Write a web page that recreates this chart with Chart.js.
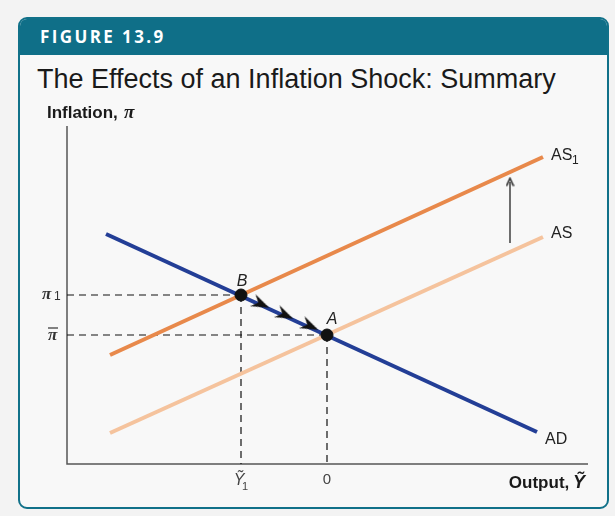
<!DOCTYPE html>
<html lang="en">
<head>
  <meta charset="UTF-8" />
  <title>Figure 13.9</title>
  <script src="https://cdn.jsdelivr.net/npm/chart.js"></script>
  <style>
    body { margin: 0; background: #f3f3f3; width: 615px; height: 516px; overflow: hidden; }
    .frame {
      position: absolute; left: 18px; top: 17px; width: 587px; height: 488px;
      border: 2px solid #117189; border-radius: 9px; background: #f8f8f8; overflow: hidden;
    }
    .frame-head {
      height: 36px; background: #0f6f88; color: #fff;
      font: bold 17px "Open Sans", "Noto Sans", sans-serif; letter-spacing: 2.4px;
      line-height: 36px; padding-left: 20px;
    }
    .title {
      position: absolute; left: 37px; top: 64px; line-height: 27px;
      font: 27px "Liberation Sans", Arial, sans-serif; color: #1a1a1a; white-space: nowrap;
    }
    .chart-wrapper { position: absolute; left: 0; top: 0; width: 615px; height: 516px; }
  </style>
</head>
<body>

<div class="frame">
  <div class="frame-head">FIGURE 13.9</div>
</div>
<div class="title">The Effects of an Inflation Shock: Summary</div>

<div class="chart-wrapper">
  <canvas id="shockChart"></canvas>
</div>

<script>
  // values (x: output, y: inflation, in picture units)
  const adLine = [{ x: 39, y: 230 }, { x: 470, y: 32 }];
  const as1Line = [{ x: 43, y: 109 }, { x: 476, y: 307 }];
  const asLine = [{ x: 43, y: 31 }, { x: 476, y: 227 }];
  const pointB = { x: 174, y: 169 };
  const pointA = { x: 260, y: 129 };
  const shiftArrow = [{ x: 443, y: 221 }, { x: 443, y: 282 }];
  const pathArrows = [{ x: 194, y: 160 }, { x: 218, y: 149 }, { x: 243, y: 138 }];
  const xTickValues = [pointB.x, pointA.x];
  const yTickValues = [pointB.y, pointA.y];
  const xMax = 521, yMax = 338;

  function stealthHead() {
    const c = document.createElement('canvas');
    c.width = 18; c.height = 13;
    const g = c.getContext('2d');
    g.fillStyle = '#111';
    g.beginPath();
    g.moveTo(18, 6.5);
    g.lineTo(0, 0);
    g.lineTo(6, 6.5);
    g.lineTo(0, 13);
    g.closePath();
    g.fill();
    return c;
  }

  function openHead() {
    const c = document.createElement('canvas');
    c.width = 11; c.height = 9;
    const g = c.getContext('2d');
    g.strokeStyle = '#222';
    g.lineWidth = 1.4;
    g.beginPath();
    g.moveTo(1.5, 1);
    g.lineTo(9.5, 4.5);
    g.lineTo(1.5, 8);
    g.stroke();
    return c;
  }

  const adAngle = Math.atan2(-(adLine[1].y - adLine[0].y), adLine[1].x - adLine[0].x) * 180 / Math.PI;

  const labelsPlugin = {
    id: 'labels',
    afterDatasetsDraw(chart) {
      const ctx = chart.ctx;
      const xs = chart.scales.x, ys = chart.scales.y;
      const px = v => xs.getPixelForValue(v);
      const py = v => ys.getPixelForValue(v);
      ctx.save();
      ctx.fillStyle = '#1a1a1a';
      ctx.textBaseline = 'alphabetic';

      // axis titles
      ctx.font = 'bold 17px "Liberation Sans", Arial, sans-serif';
      ctx.textAlign = 'left';
      ctx.fillText('Inflation,', 47, 118);
      ctx.font = 'italic bold 19px "Liberation Serif", serif';
      ctx.fillText('π', 124, 118);

      ctx.font = 'bold 17px "Liberation Sans", Arial, sans-serif';
      ctx.textAlign = 'right';
      ctx.fillText('Output, ', 574, 488);
      ctx.font = 'italic bold 18px "Liberation Sans", Arial, sans-serif';
      ctx.textAlign = 'left';
      ctx.fillText('Ỹ', 573, 488);

      // curve labels
      ctx.fillStyle = '#222';
      ctx.font = '16px "Liberation Sans", Arial, sans-serif';
      ctx.fillText('AS', 551, 160);
      ctx.font = '12px "Liberation Sans", Arial, sans-serif';
      ctx.fillText('1', 572, 164);
      ctx.font = '16px "Liberation Sans", Arial, sans-serif';
      ctx.fillText('AS', 551, 238);
      ctx.fillText('AD', 545, 444);

      // point labels
      ctx.font = 'italic 16px "Liberation Sans", Arial, sans-serif';
      ctx.textAlign = 'center';
      ctx.fillText('B', px(pointB.x) + 1, py(pointB.y) - 9);
      ctx.fillText('A', px(pointA.x) + 5, py(pointA.y) - 11);

      // y ticks
      ctx.fillStyle = '#333';
      ctx.textAlign = 'left';
      ctx.font = 'italic bold 17px "Liberation Serif", serif';
      ctx.fillText('π', 42, py(yTickValues[0]) + 4);
      ctx.font = '12px "Liberation Sans", Arial, sans-serif';
      ctx.fillText('1', 54, py(yTickValues[0]) + 5);
      ctx.font = 'italic bold 17px "Liberation Serif", serif';
      ctx.fillText('π', 48, py(yTickValues[1]) + 5);
      ctx.strokeStyle = '#333';
      ctx.lineWidth = 1.2;
      ctx.beginPath();
      ctx.moveTo(48, py(yTickValues[1]) - 7);
      ctx.lineTo(58, py(yTickValues[1]) - 7);
      ctx.stroke();

      // x ticks
      ctx.fillStyle = '#444';
      ctx.font = 'italic 16px "Liberation Sans", Arial, sans-serif';
      ctx.textAlign = 'center';
      ctx.fillText('Ỹ', px(xTickValues[0]) - 2, py(0) + 21);
      ctx.font = '11px "Liberation Sans", Arial, sans-serif';
      ctx.fillText('1', px(xTickValues[0]) + 4, py(0) + 26);
      ctx.font = '15px "Liberation Sans", Arial, sans-serif';
      ctx.fillText('0', px(xTickValues[1]), py(0) + 20);
      ctx.restore();
    }
  };

  const dash = { borderColor: '#111', borderWidth: 1.2, borderDash: [7, 5], pointRadius: 0, showLine: true, fill: false, order: 6 };

  // lower order is drawn on top
  new Chart(document.getElementById('shockChart'), {
    type: 'scatter',
    data: {
      datasets: [
        { data: [pointB, pointA], backgroundColor: '#111', borderColor: '#111', pointRadius: 6, pointHoverRadius: 6, order: 0 },
        { data: pathArrows, pointStyle: stealthHead(), rotation: adAngle, pointRadius: 7, order: 1 },
        { data: [shiftArrow[1]], pointStyle: openHead(), rotation: -90, pointRadius: 5, order: 1 },
        { data: shiftArrow, showLine: true, borderColor: '#222', borderWidth: 1.3, pointRadius: 0, order: 2 },
        { label: 'AD', data: adLine, showLine: true, borderColor: '#233e96', borderWidth: 4, pointRadius: 0, order: 3 },
        { label: 'AS1', data: as1Line, showLine: true, borderColor: '#e8894b', borderWidth: 4, pointRadius: 0, order: 4 },
        { label: 'AS', data: asLine, showLine: true, borderColor: '#f5c39d', borderWidth: 4, pointRadius: 0, order: 5 },
        { ...dash, data: [{ x: 0, y: pointB.y }, pointB] },
        { ...dash, data: [pointB, { x: pointB.x, y: 0 }] },
        { ...dash, data: [{ x: 0, y: pointA.y }, pointA] },
        { ...dash, data: [pointA, { x: pointA.x, y: 0 }] },
        { data: [{ x: 0, y: yMax }, { x: 0, y: 0 }, { x: xMax, y: 0 }], showLine: true, borderColor: '#555', borderWidth: 1.5, pointRadius: 0, order: 7 }
      ]
    },
    options: {
      responsive: true,
      maintainAspectRatio: false,
      animation: false,
      events: [],
      layout: { padding: { left: 67, right: 27, top: 126, bottom: 52 } },
      elements: { line: { borderCapStyle: 'butt' } },
      plugins: { legend: { display: false }, tooltip: { enabled: false } },
      scales: {
        x: { type: 'linear', display: false, min: 0, max: xMax },
        y: { type: 'linear', display: false, min: 0, max: yMax }
      },
      datasets: { scatter: { clip: false } }
    },
    plugins: [labelsPlugin]
  });
</script>
</body>
</html>
